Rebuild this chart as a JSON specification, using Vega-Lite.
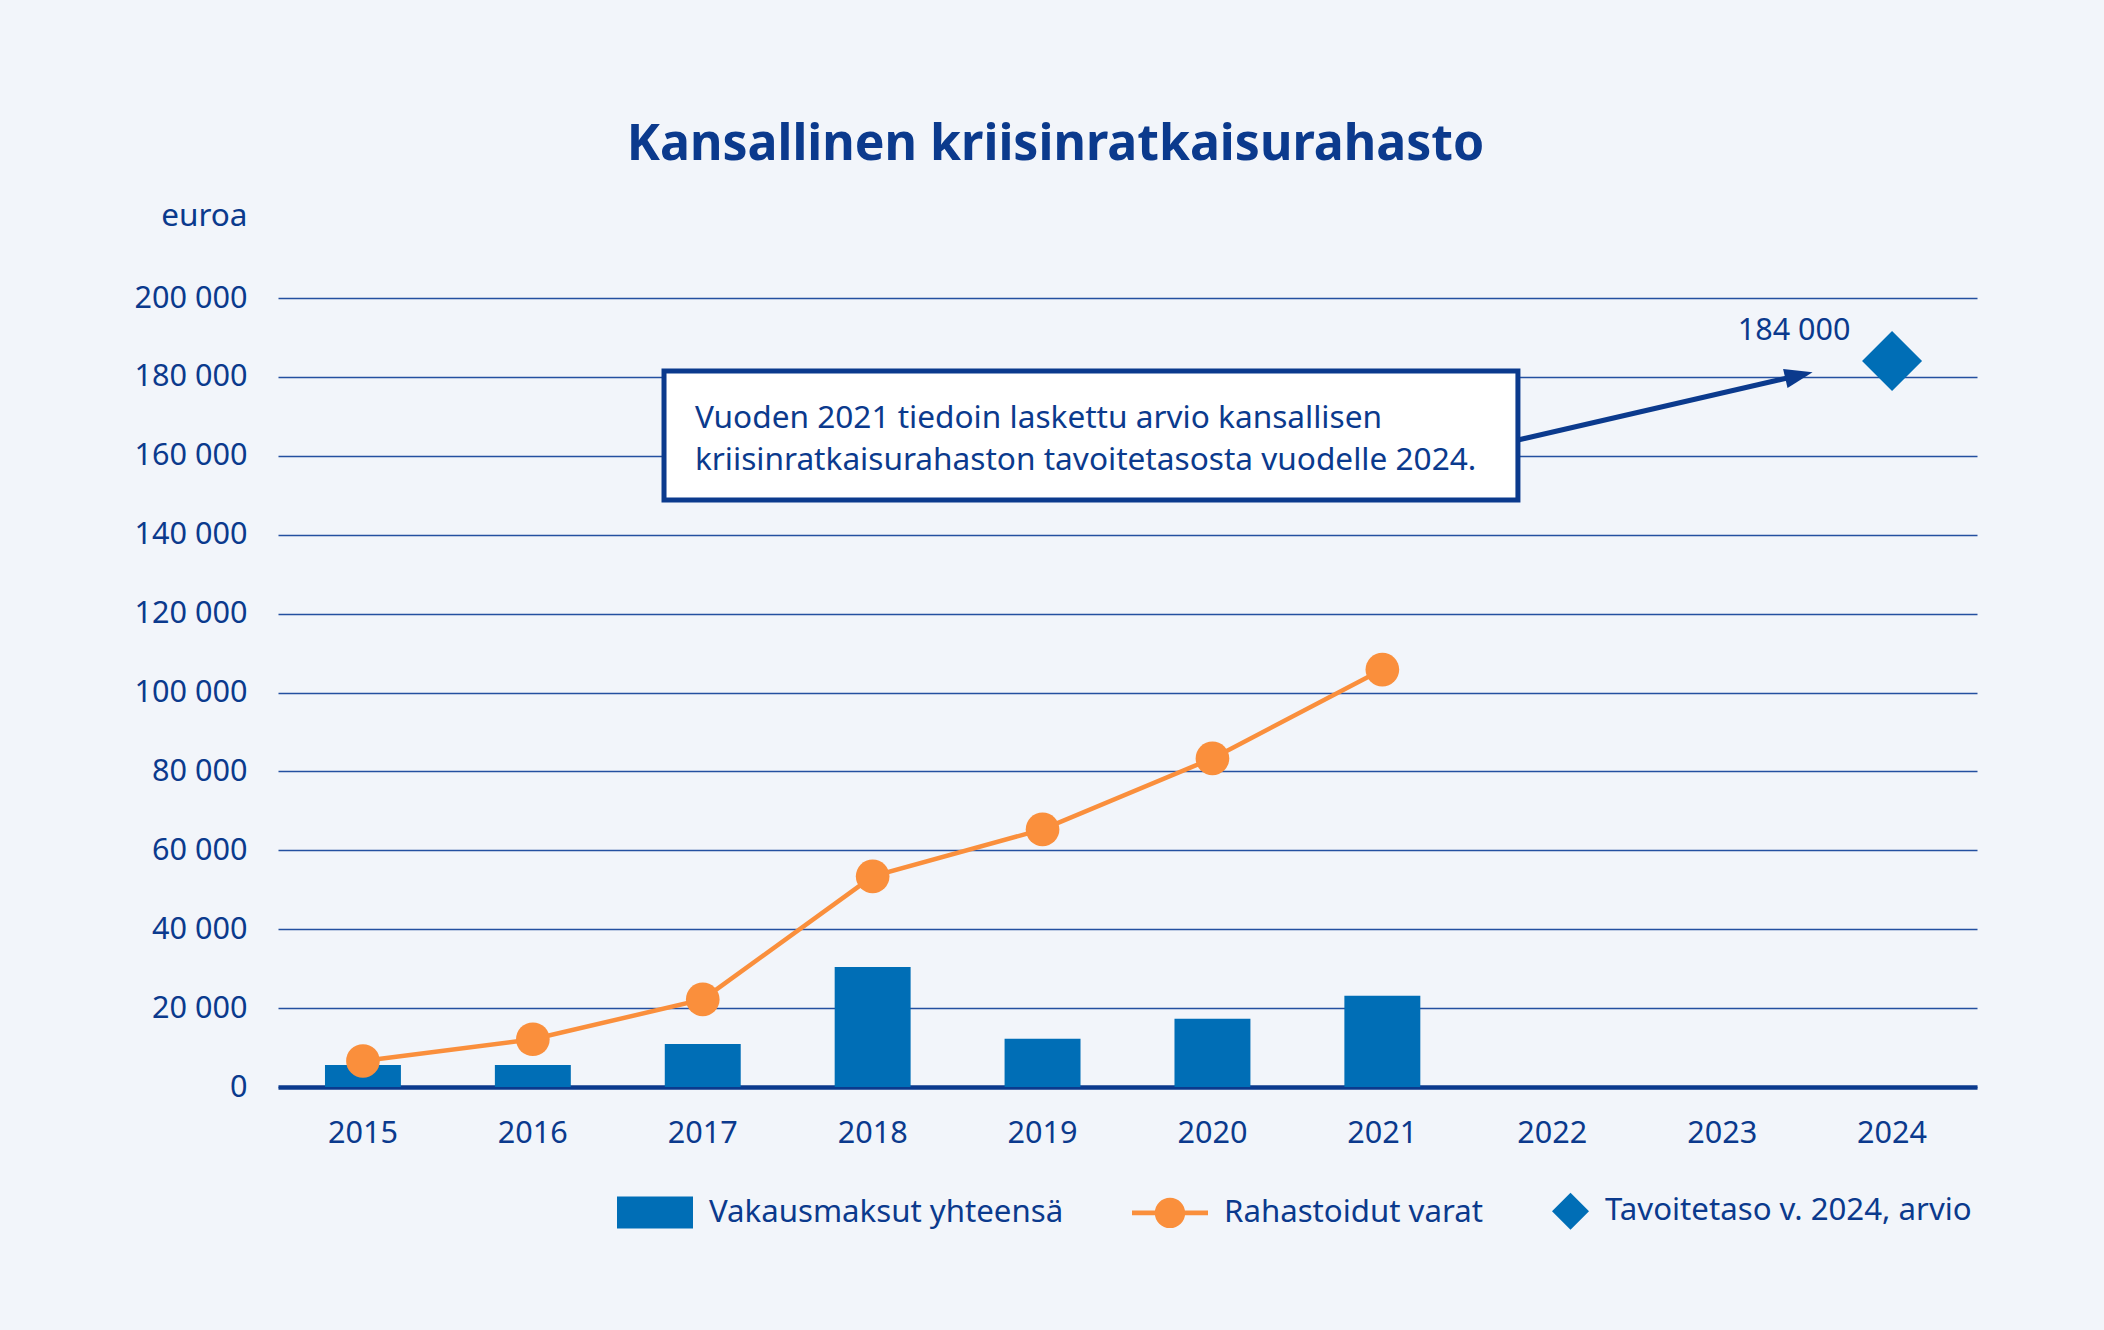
{
  "$schema": "https://vega.github.io/schema/vega-lite/v6.json",
  "width": 1699,
  "height": 789,
  "autosize": "none",
  "padding": {"left": 278, "top": 298, "right": 127, "bottom": 243},
  "background": "#F2F5FA",
  "title": {
    "text": "Kansallinen kriisinratkaisurahasto",
    "font": "Noto Sans",
    "fontSize": 50,
    "fontWeight": "bold",
    "color": "#0B3A8D",
    "anchor": "middle",
    "frame": "group",
    "dx": -72,
    "baseline": "alphabetic",
    "offset": -10
  },
  "config": {"view": {"stroke": null}, "font": "Noto Sans"},
  "datasets": {
    "maksut": [
      {"year": "2015", "value": 5600, "series": "Vakausmaksut yhteensä"},
      {"year": "2016", "value": 5600, "series": "Vakausmaksut yhteensä"},
      {"year": "2017", "value": 10900, "series": "Vakausmaksut yhteensä"},
      {"year": "2018", "value": 30400, "series": "Vakausmaksut yhteensä"},
      {"year": "2019", "value": 12200, "series": "Vakausmaksut yhteensä"},
      {"year": "2020", "value": 17300, "series": "Vakausmaksut yhteensä"},
      {"year": "2021", "value": 23100, "series": "Vakausmaksut yhteensä"}
    ],
    "varat": [
      {"year": "2015", "value": 6600, "series": "Rahastoidut varat"},
      {"year": "2016", "value": 12100, "series": "Rahastoidut varat"},
      {"year": "2017", "value": 22200, "series": "Rahastoidut varat"},
      {"year": "2018", "value": 53400, "series": "Rahastoidut varat"},
      {"year": "2019", "value": 65300, "series": "Rahastoidut varat"},
      {"year": "2020", "value": 83300, "series": "Rahastoidut varat"},
      {"year": "2021", "value": 105800, "series": "Rahastoidut varat"}
    ],
    "tavoite": [
      {"year": "2024", "value": 184000, "series": "Tavoitetaso v. 2024, arvio", "label": "184 000"}
    ],
    "note": [
      {"text": ["Vuoden 2021 tiedoin laskettu arvio kansallisen", "kriisinratkaisurahaston tavoitetasosta vuodelle 2024."]}
    ]
  },
  "layer": [
    {
      "encoding": {
        "x": {
          "field": "year",
          "type": "ordinal",
          "scale": {
            "domain": ["2015", "2016", "2017", "2018", "2019", "2020", "2021", "2022", "2023", "2024"],
            "paddingInner": 0.553,
            "paddingOuter": 0.2765
          },
          "axis": {
            "title": null,
            "labelAngle": 0,
            "labelFont": "Noto Sans",
            "labelFontSize": 30.6,
            "labelColor": "#0B3A8D",
            "labelPadding": 55,
            "labelBaseline": "alphabetic",
            "ticks": false,
            "tickSize": 0,
            "grid": false,
            "domain": true,
            "domainColor": "#0B3A8D",
            "domainWidth": 4.5
          }
        },
        "y": {
          "field": "value",
          "type": "quantitative",
          "scale": {"domain": [0, 200000], "nice": false},
          "axis": {
            "title": "euroa",
            "titleAngle": 0,
            "titleAlign": "right",
            "titleBaseline": "alphabetic",
            "titleX": -31,
            "titleY": -73,
            "titleFont": "Noto Sans",
            "titleFontSize": 31.5,
            "titleFontWeight": "normal",
            "titleColor": "#0B3A8D",
            "values": [0, 20000, 40000, 60000, 80000, 100000, 120000, 140000, 160000, 180000, 200000],
            "labelExpr": "replace(format(datum.value, ','), regexp(',', 'g'), ' ')",
            "labelFont": "Noto Sans",
            "labelFontSize": 30.6,
            "labelColor": "#0B3A8D",
            "labelPadding": 31,
            "labelBaseline": "middle",
            "ticks": false,
            "tickSize": 0,
            "domain": false,
            "grid": true,
            "gridColor": "#2450A0",
            "gridWidth": 1.3
          }
        }
      },
      "layer": [
        {
          "data": {"name": "maksut"},
          "mark": {"type": "bar"},
          "encoding": {
            "color": {
              "field": "series",
              "type": "nominal",
              "scale": {
                "domain": ["Vakausmaksut yhteensä", "Rahastoidut varat", "Tavoitetaso v. 2024, arvio"],
                "range": ["#006EB6", "#FA8F3C", "#006EB6"]
              },
              "legend": {
                "orient": "none",
                "legendX": 339,
                "legendY": 875,
                "direction": "horizontal",
                "title": null,
                "symbolSize": 5776,
                "symbolStrokeWidth": 0,
                "symbolOpacity": 1,
                "labelFont": "Noto Sans",
                "labelFontSize": 31.2,
                "labelColor": "#0B3A8D",
                "labelOffset": 16,
                "labelLimit": 0,
                "columnPadding": 68,
                "encode": {
                  "labels": {"update": {"dx": {"signal": "datum.value === 'Tavoitetaso v. 2024, arvio' ? -41 : 0"}}}
                }
              }
            }
          }
        },
        {
          "data": {"name": "varat"},
          "mark": {"type": "line", "strokeWidth": 4.5},
          "encoding": {"color": {"field": "series", "type": "nominal"}}
        },
        {
          "data": {"name": "varat"},
          "mark": {"type": "point", "filled": true, "shape": "circle", "size": 1134, "opacity": 1},
          "encoding": {"color": {"field": "series", "type": "nominal"}}
        },
        {
          "data": {"name": "tavoite"},
          "mark": {"type": "point", "filled": true, "shape": "diamond", "size": 3600, "opacity": 1},
          "encoding": {"color": {"field": "series", "type": "nominal"}}
        },
        {
          "data": {"name": "tavoite"},
          "transform": [{"filter": "datum.value < 0"}],
          "mark": {"type": "point", "filled": true, "size": 100, "opacity": 1},
          "encoding": {
            "color": {"field": "series", "type": "nominal"},
            "shape": {
              "field": "series",
              "type": "nominal",
              "scale": {
                "domain": ["Vakausmaksut yhteensä", "Rahastoidut varat", "Tavoitetaso v. 2024, arvio"],
                "range": [
                  "M-1,-0.42H1V0.42H-1Z",
                  "M-1,-0.065H1V0.065H-1Z M0.4,0A0.4,0.4 0 1,1 -0.4,0A0.4,0.4 0 1,1 0.4,0Z",
                  "M-0.566,-0.487L-0.079,0L-0.566,0.487L-1.053,0Z"
                ]
              },
              "legend": {
                "orient": "none",
                "legendX": 339,
                "legendY": 875,
                "direction": "horizontal",
                "title": null,
                "symbolSize": 5776,
                "symbolStrokeWidth": 0,
                "symbolOpacity": 1,
                "labelFont": "Noto Sans",
                "labelFontSize": 31.2,
                "labelColor": "#0B3A8D",
                "labelOffset": 16,
                "labelLimit": 0,
                "columnPadding": 68
              }
            }
          }
        },
        {
          "data": {"name": "tavoite"},
          "mark": {"type": "text", "dx": -98, "dy": -30, "fontSize": 30.5, "font": "Noto Sans", "color": "#0B3A8D", "align": "center", "baseline": "middle"},
          "encoding": {"text": {"field": "label", "type": "nominal"}}
        }
      ]
    },
    {
      "data": {"name": "note"},
      "layer": [
        {
          "mark": {"type": "rect", "fill": "white", "stroke": "#0B3A8D", "strokeWidth": 5},
          "encoding": {
            "x": {"datum": 2016.772, "type": "quantitative", "scale": {"type": "linear", "domain": [2014.5, 2024.5], "nice": false, "zero": false}, "axis": null},
            "x2": {"datum": 2021.798},
            "y": {"datum": 181500, "type": "quantitative"},
            "y2": {"datum": 148800}
          }
        },
        {
          "mark": {"type": "text", "align": "left", "baseline": "middle", "fontSize": 31.6, "font": "Noto Sans", "color": "#0B3A8D", "lineHeight": 42},
          "encoding": {
            "x": {"datum": 2016.954, "type": "quantitative", "scale": {"type": "linear", "domain": [2014.5, 2024.5], "nice": false, "zero": false}, "axis": null},
            "y": {"datum": 169300, "type": "quantitative"},
            "text": {"field": "text", "type": "nominal"}
          }
        },
        {
          "mark": {"type": "rule", "stroke": "#0B3A8D", "strokeWidth": 5},
          "encoding": {
            "x": {"datum": 2021.798, "type": "quantitative", "scale": {"type": "linear", "domain": [2014.5, 2024.5], "nice": false, "zero": false}, "axis": null},
            "x2": {"datum": 2023.452},
            "y": {"datum": 164000, "type": "quantitative"},
            "y2": {"datum": 180400}
          }
        },
        {
          "mark": {"type": "point", "filled": true, "shape": "M1,0L-1,-0.7L-1,0.7Z", "size": 784, "angle": -13, "opacity": 1, "color": "#0B3A8D"},
          "encoding": {
            "x": {"datum": 2023.452, "type": "quantitative", "scale": {"type": "linear", "domain": [2014.5, 2024.5], "nice": false, "zero": false}, "axis": null},
            "y": {"datum": 180400, "type": "quantitative"}
          }
        }
      ]
    }
  ],
  "resolve": {"scale": {"x": "independent"}}
}
